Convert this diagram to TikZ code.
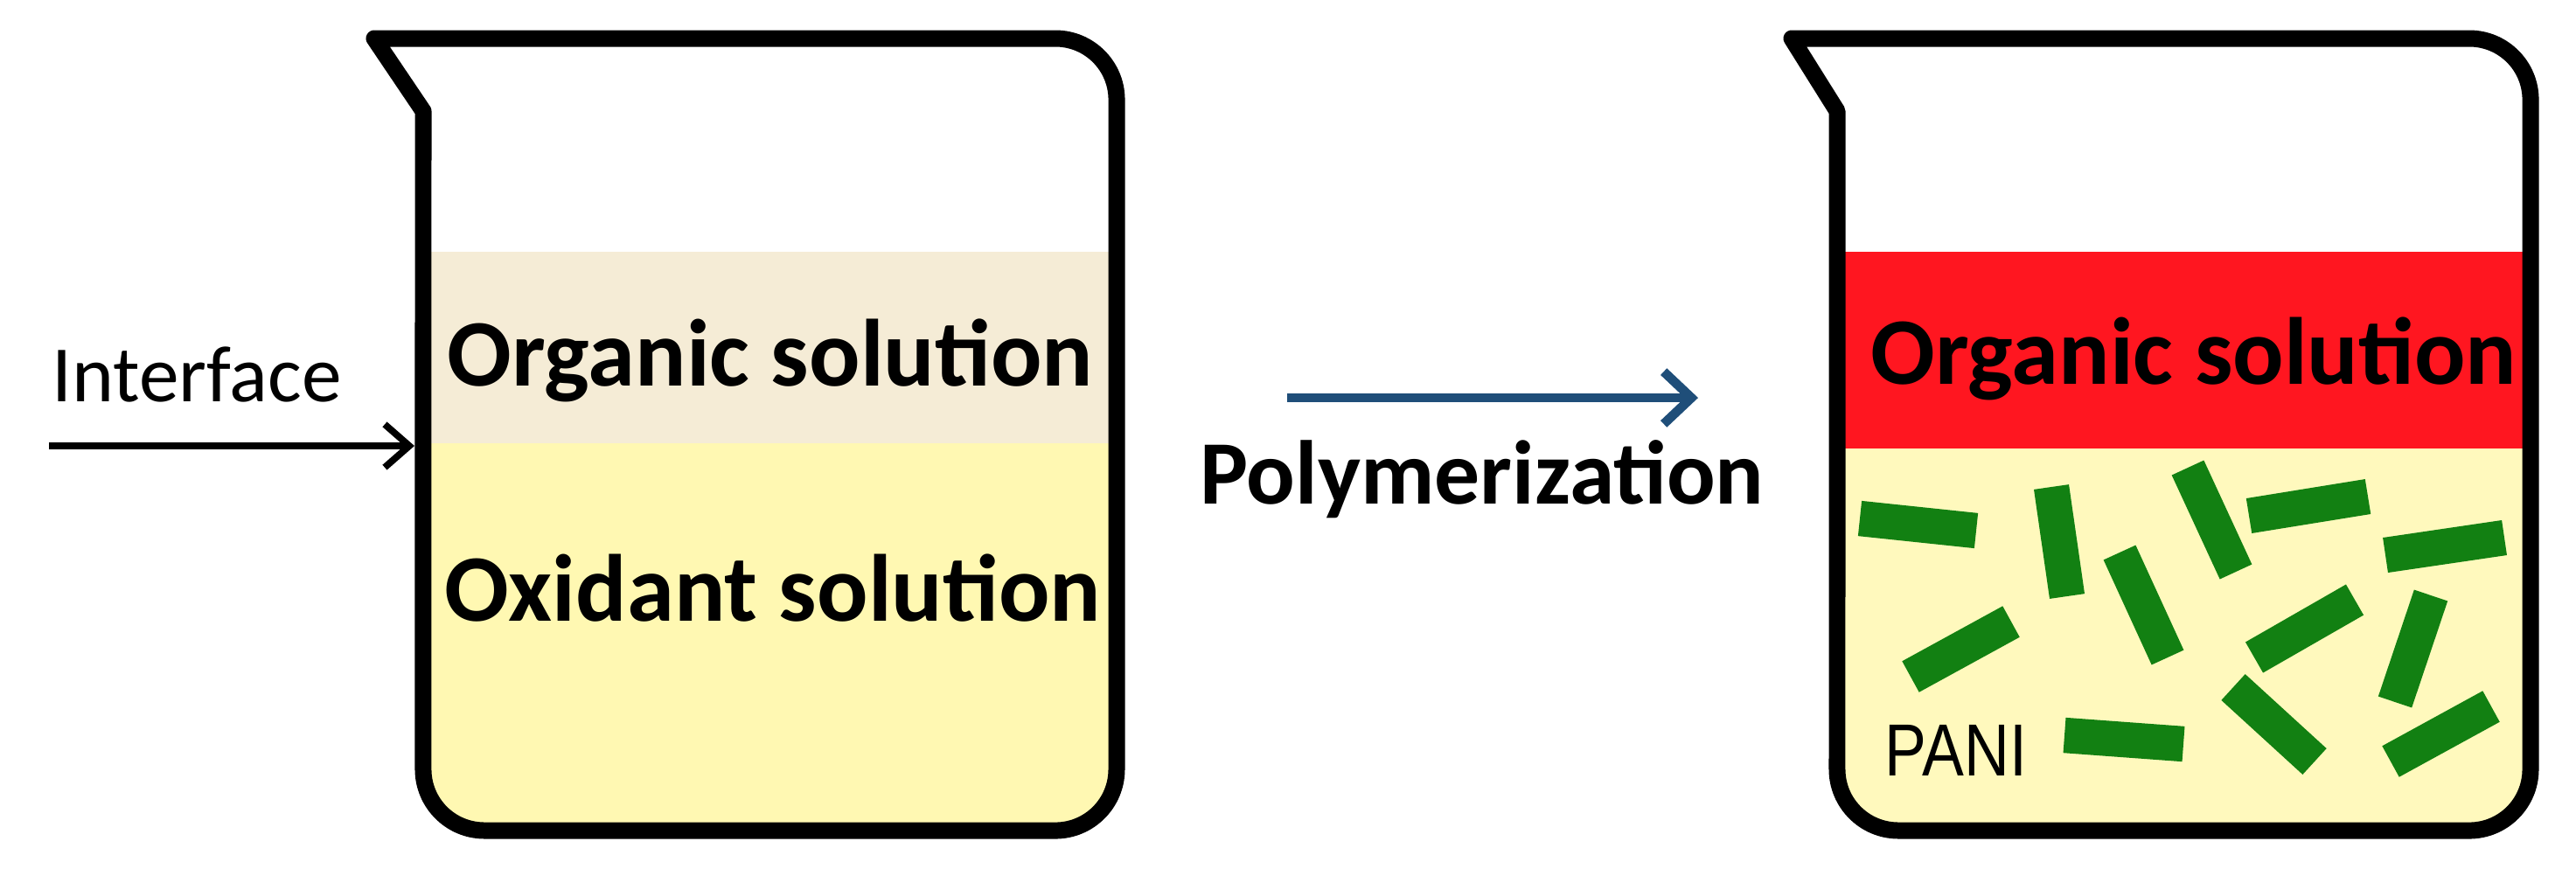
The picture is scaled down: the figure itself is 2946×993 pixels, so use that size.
\documentclass[tikz,border=0pt]{standalone}
\usepackage{fontspec}
\setmainfont{Carlito}
\newfontfamily\panifont{Liberation Sans}
\usetikzlibrary{arrows.meta}
\definecolor{orgbeige}{RGB}{245,236,214}
\definecolor{oxyellow}{RGB}{255,248,178}
\definecolor{orgred}{RGB}{255,22,32}
\definecolor{rodgreen}{RGB}{18,128,18}
\definecolor{arrblue}{RGB}{31,78,121}
\tikzset{
  beakerline/.style={line width=5.4pt, line join=round},
  rod/.style={rodgreen, line width=11.5pt, line cap=butt},
  bigtxt/.style={font=\fontsize{31}{34}\selectfont\bfseries, inner sep=0pt},
}
\begin{document}
\begin{tikzpicture}[x=0.01cm,y=-0.01cm]
\useasboundingbox (0,0) rectangle (2946,993);
% left beaker
\begin{scope}
  \clip (428,44) -- (1207,44) arc(90:0:0.7cm) -- (1277,880) arc(0:-90:0.7cm) -- (554,950) arc(-90:-180:0.7cm) -- (484,127) -- cycle;
  \fill[orgbeige] (470,288) rectangle (1290,507);
  \fill[oxyellow] (470,507) rectangle (1290,960);
\end{scope}
\draw[beakerline] (428,44) -- (1207,44) arc(90:0:0.7cm) -- (1277,880) arc(0:-90:0.7cm) -- (554,950) arc(-90:-180:0.7cm) -- (484,127) -- cycle;
% right beaker
\begin{scope}
  \clip (2049,44) -- (2824,44) arc(90:0:0.7cm) -- (2894,880) arc(0:-90:0.7cm) -- (2171,950) arc(-90:-180:0.7cm) -- (2101,127) -- cycle;
  \fill[orgred] (2090,288) rectangle (2910,513);
  \fill[oxyellow!85!white] (2090,513) rectangle (2910,960);
\end{scope}
\draw[beakerline] (2049,44) -- (2824,44) arc(90:0:0.7cm) -- (2894,880) arc(0:-90:0.7cm) -- (2171,950) arc(-90:-180:0.7cm) -- (2101,127) -- cycle;
% rods
\draw[rod] (2127,593) -- (2260,607);
\draw[rod] (2346,557) -- (2364,682);
\draw[rod] (2502,535) -- (2557,654);
\draw[rod] (2572,590) -- (2708,568);
\draw[rod] (2728,635) -- (2864,615);
\draw[rod] (2424,632) -- (2479,752);
\draw[rod] (2185,774) -- (2300,711);
\draw[rod] (2578,752) -- (2693,686);
\draw[rod] (2780,681) -- (2739,803);
\draw[rod] (2554,786) -- (2647,871);
\draw[rod] (2361,841) -- (2497,851);
\draw[rod] (2734,871) -- (2849,808);
% texts
\node[bigtxt] (org1) at (881,412) {Organic solution};
\node[bigtxt] (ox1) at (884,673) {Oxidant solution};
\node[bigtxt] (org2) at (2509,410) {Organic solution};
\node[inner sep=0pt, font=\fontsize{26}{30}\selectfont] (intf) at (225,428) {Interface};
\node[inner sep=0pt, font=\fontsize{29.5}{32}\selectfont\bfseries] (poly) at (1695,548) {Polymerization};
\node[inner sep=0pt, xscale=0.85, font=\panifont\fontsize{24}{26}\selectfont] (pani) at (2237,858) {PANI};
% arrows
\coordinate (ia) at (56,510);
\coordinate (ib) at (474,510);
\draw[line width=2.2pt, -{Straight Barb[length=8pt,width=14pt,line width=2.2pt]}] (ia) -- (ib);
\coordinate (pa) at (1472,455);
\coordinate (pb) at (1942,455);
\draw[arrblue, line width=3pt, -{Straight Barb[length=9pt,width=17pt,line width=3pt]}] (pa) -- (pb);
\end{tikzpicture}
\end{document}
